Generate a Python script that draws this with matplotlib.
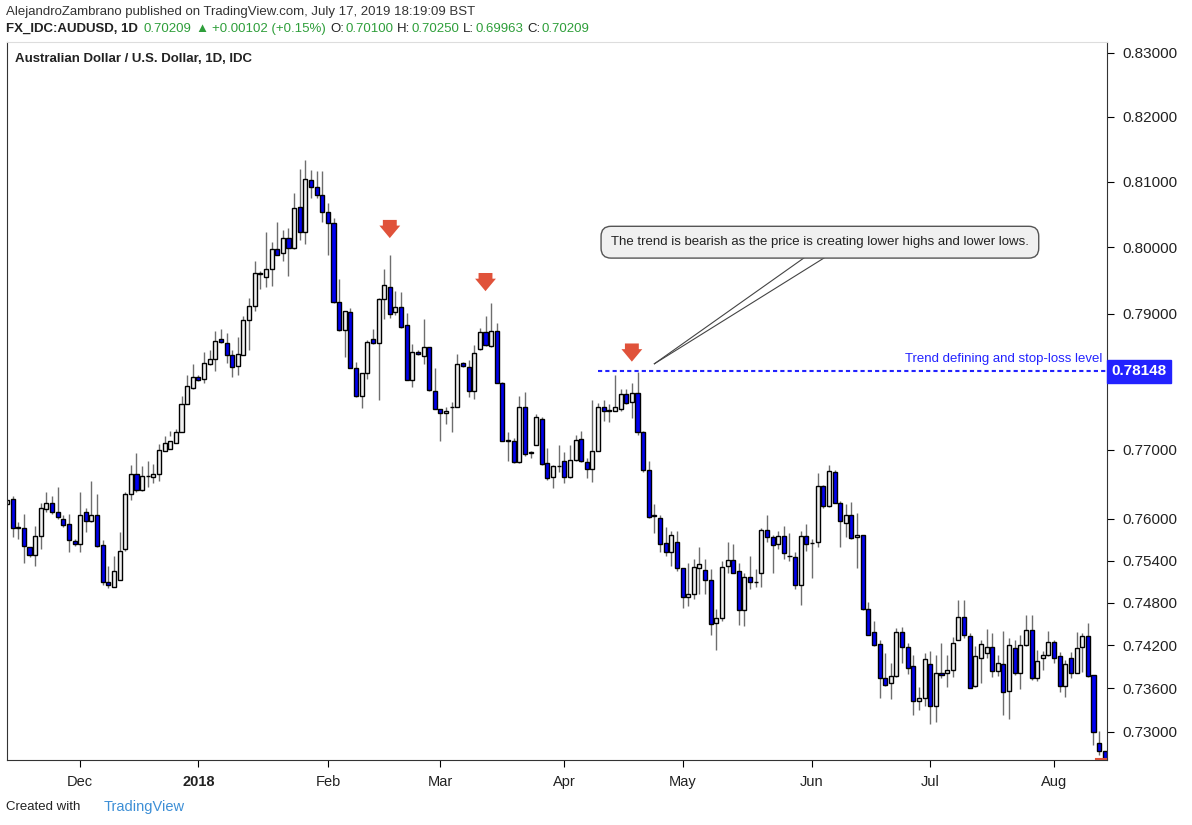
import numpy as np
import pandas as pd
import matplotlib
matplotlib.use('Agg')
import matplotlib.pyplot as plt

# daily AUD/USD candles (price * 1e4)
opens = [7621, 7628, 7587, 7587, 7560, 7548, 7575, 7614, 7622, 7610, 7600, 7593, 7568, 7564, 7609, 7596, 7606, 7562, 7509, 7503, 7513, 7557, 7635, 7664, 7641, 7661, 7660, 7664,
         7698, 7701, 7710, 7726, 7766, 7790, 7806, 7804, 7826, 7833, 7862, 7857, 7839, 7823, 7839, 7891, 7912, 7960, 7956, 7968, 7997, 7992, 8014, 7999, 8062, 8023, 8103, 8092,
         8080, 8054, 8037, 7918, 7876, 7903, 7820, 7779, 7812, 7862, 7857, 7922, 7941, 7903, 7910, 7883, 7802, 7844, 7838, 7851, 7786, 7760, 7753, 7762, 7763, 7827, 7821, 7786,
         7848, 7873, 7853, 7874, 7798, 7713, 7713, 7682, 7762, 7695, 7707, 7745, 7681, 7660, 7676, 7683, 7660, 7685, 7716, 7682, 7672, 7698, 7762, 7757, 7757, 7759, 7781, 7769,
         7783, 7726, 7670, 7604, 7601, 7565, 7552, 7567, 7529, 7488, 7492, 7529, 7526, 7512, 7452, 7459, 7532, 7541, 7525, 7470, 7516, 7509, 7523, 7584, 7574, 7564, 7575, 7546,
         7545, 7505, 7575, 7565, 7567, 7647, 7618, 7667, 7623, 7594, 7606, 7574, 7577, 7471, 7439, 7422, 7375, 7367, 7377, 7439, 7418, 7391, 7343, 7347, 7394, 7336, 7382, 7381,
         7386, 7428, 7460, 7433, 7363, 7403, 7409, 7418, 7384, 7394, 7357, 7416, 7381, 7420, 7442, 7375, 7403, 7406, 7425, 7405, 7364, 7402, 7382, 7418, 7433, 7378, 7285, 7273]
highs = [7627, 7632, 7595, 7607, 7560, 7590, 7622, 7639, 7632, 7645, 7605, 7607, 7571, 7639, 7615, 7654, 7635, 7569, 7533, 7547, 7581, 7639, 7678, 7695, 7676, 7684, 7679, 7708,
         7720, 7727, 7730, 7778, 7809, 7825, 7810, 7844, 7846, 7874, 7877, 7872, 7846, 7866, 7897, 7924, 7980, 7965, 8023, 8008, 8039, 8026, 8029, 8083, 8119, 8134, 8118, 8116,
         8116, 8067, 8044, 7953, 7904, 7909, 7829, 7812, 7861, 7877, 7924, 7967, 7989, 7935, 7933, 7902, 7856, 7847, 7893, 7851, 7819, 7760, 7762, 7769, 7841, 7829, 7831, 7854,
         7879, 7897, 7917, 7886, 7799, 7725, 7717, 7779, 7784, 7698, 7752, 7747, 7702, 7678, 7707, 7697, 7707, 7722, 7727, 7688, 7772, 7768, 7772, 7767, 7810, 7789, 7789, 7798,
         7814, 7727, 7683, 7621, 7606, 7588, 7583, 7582, 7529, 7537, 7543, 7559, 7542, 7528, 7472, 7540, 7567, 7564, 7536, 7522, 7547, 7528, 7586, 7605, 7576, 7583, 7590, 7580,
         7552, 7583, 7593, 7571, 7666, 7648, 7677, 7671, 7625, 7621, 7624, 7608, 7577, 7481, 7454, 7427, 7409, 7395, 7444, 7446, 7423, 7406, 7362, 7410, 7412, 7406, 7424, 7406,
         7432, 7484, 7484, 7437, 7419, 7428, 7443, 7438, 7406, 7441, 7431, 7427, 7435, 7463, 7463, 7413, 7412, 7440, 7427, 7411, 7400, 7411, 7439, 7437, 7452, 7379, 7301, 7273]
lows = [7621, 7574, 7571, 7536, 7545, 7532, 7557, 7610, 7607, 7600, 7588, 7552, 7561, 7552, 7581, 7595, 7559, 7506, 7501, 7503, 7521, 7554, 7627, 7639, 7640, 7646, 7651, 7654,
        7698, 7720, 7709, 7725, 7766, 7789, 7800, 7797, 7824, 7815, 7857, 7827, 7807, 7809, 7839, 7846, 7904, 7937, 7940, 7942, 7988, 7980, 7957, 7998, 8011, 8006, 8075, 8075,
        8039, 7988, 7917, 7874, 7836, 7819, 7777, 7761, 7804, 7856, 7773, 7892, 7894, 7899, 7879, 7802, 7792, 7839, 7826, 7786, 7759, 7712, 7738, 7726, 7762, 7821, 7777, 7774,
        7846, 7852, 7851, 7797, 7712, 7683, 7681, 7681, 7690, 7688, 7707, 7678, 7656, 7644, 7668, 7651, 7659, 7683, 7682, 7659, 7653, 7698, 7742, 7740, 7756, 7756, 7767, 7746,
        7722, 7668, 7601, 7580, 7552, 7547, 7532, 7525, 7473, 7475, 7486, 7492, 7492, 7434, 7413, 7454, 7523, 7523, 7449, 7448, 7499, 7503, 7503, 7566, 7523, 7557, 7543, 7540,
        7499, 7477, 7554, 7515, 7559, 7616, 7617, 7622, 7560, 7574, 7571, 7530, 7470, 7434, 7419, 7347, 7364, 7345, 7376, 7395, 7380, 7323, 7330, 7335, 7310, 7314, 7375, 7362,
        7376, 7427, 7430, 7360, 7362, 7367, 7403, 7376, 7377, 7323, 7318, 7379, 7359, 7419, 7372, 7370, 7386, 7405, 7395, 7355, 7348, 7375, 7381, 7383, 7376, 7281, 7268, 7245]
closes = [7627, 7587, 7587, 7561, 7548, 7575, 7616, 7622, 7609, 7602, 7591, 7570, 7564, 7606, 7596, 7606, 7561, 7509, 7505, 7525, 7554, 7635, 7664, 7641, 7661, 7661, 7664, 7700,
          7710, 7713, 7726, 7766, 7793, 7806, 7802, 7827, 7833, 7860, 7859, 7839, 7821, 7841, 7891, 7912, 7962, 7960, 7968, 7997, 7989, 8014, 7999, 8060, 8023, 8105, 8092, 8080,
          8054, 8037, 7918, 7876, 7904, 7820, 7779, 7812, 7859, 7857, 7923, 7944, 7900, 7910, 7880, 7802, 7844, 7841, 7851, 7787, 7760, 7753, 7756, 7762, 7826, 7823, 7786, 7842,
          7873, 7854, 7874, 7798, 7713, 7713, 7682, 7762, 7693, 7695, 7747, 7679, 7659, 7676, 7676, 7660, 7685, 7714, 7683, 7672, 7698, 7762, 7756, 7757, 7762, 7781, 7768, 7783,
          7726, 7670, 7603, 7604, 7564, 7552, 7577, 7529, 7488, 7492, 7531, 7535, 7512, 7450, 7459, 7531, 7541, 7523, 7470, 7516, 7509, 7509, 7584, 7574, 7562, 7575, 7551, 7546,
          7505, 7575, 7564, 7565, 7647, 7618, 7669, 7623, 7597, 7606, 7573, 7577, 7471, 7435, 7420, 7375, 7365, 7377, 7439, 7418, 7389, 7343, 7347, 7401, 7336, 7382, 7379, 7386,
          7423, 7460, 7435, 7361, 7405, 7422, 7418, 7384, 7395, 7355, 7420, 7381, 7420, 7442, 7375, 7398, 7406, 7425, 7403, 7363, 7394, 7382, 7416, 7433, 7377, 7299, 7273, 7250]
start_date = '2017-11-14'
y_ticks = [0.83, 0.82, 0.81, 0.80, 0.79, 0.77, 0.76, 0.754, 0.748, 0.742, 0.736, 0.730]
arrow_idx = [68, 85, 111]
arrow_price = [0.8010, 0.7930, 0.7825]
level = 0.78148
header_vals = ['0.70209', '\u25b2', '+0.00102 (+0.15%)', 'O:', '0.70100', 'H:', '0.70250', 'L:', '0.69963', 'C:', '0.70209']

o = np.array(opens) / 1e4
h = np.array(highs) / 1e4
l = np.array(lows) / 1e4
c = np.array(closes) / 1e4
n = len(o)
x = np.arange(n)
dates = pd.bdate_range(start_date, periods=n)

plt.rcParams['font.family'] = 'Liberation Sans'
W, H = 1192, 825
fig = plt.figure(figsize=(W / 100, H / 100), dpi=100)
ax = fig.add_axes([7 / W, 1 - 760 / H, 1100 / W, 718 / H])
ax.set_yscale('log')

up = c >= o
ax.vlines(x, l, h, color='#6e6e6e', lw=1, zorder=1)
bot = np.minimum(o, c)
ht = np.maximum(np.abs(c - o), 0.00008)
ax.bar(x[up], ht[up], bottom=bot[up], width=0.72, color='#f0f0f0', edgecolor='black', lw=1, zorder=2)
ax.bar(x[~up], ht[~up], bottom=bot[~up], width=0.72, color='#0000f0', edgecolor='black', lw=1, zorder=2)

ax.set_xlim(0, n - 0.6)
ax.set_ylim(0.7261, 0.8317)

# month ticks
mt, ml = [], []
for i in range(1, n):
    if dates[i].month != dates[i - 1].month:
        mt.append(i)
        ml.append('2018' if dates[i].month == 1 else dates[i].strftime('%b'))
ax.set_xticks(mt)
ax.set_xticklabels(ml, fontsize=10.5, color='#222222')
for t in ax.get_xticklabels():
    if t.get_text() == '2018':
        t.set_fontweight('bold')
ax.yaxis.tick_right()
ax.set_yticks(y_ticks)
ax.set_yticklabels(['%.5f' % v for v in y_ticks], fontsize=11, color='#222222')
ax.yaxis.set_minor_locator(matplotlib.ticker.NullLocator())
ax.tick_params(axis='y', length=5, pad=6)
ax.tick_params(axis='x', length=5, pad=6)
for s in ax.spines.values():
    s.set_color('#333333')
ax.spines['top'].set_color('#dddddd')

# annotations
for i, pr in zip(arrow_idx, arrow_price):
    ax.annotate('', xy=(i, pr), xytext=(i, pr * 1.0045),
                arrowprops=dict(arrowstyle='simple,head_width=1.5,head_length=0.9,tail_width=1.0',
                                color='#e0523a', lw=0))
ax.hlines(level, 105, n, colors='#2222ff', linestyles=(0, (2, 1.5)), lw=1.5, zorder=3)
ax.text(n - 1.5, level * 1.0012, 'Trend defining and stop-loss level', color='#2222ff',
        fontsize=9.5, ha='right', va='bottom')
ax.text(1.004, level, '0.78148', transform=ax.get_yaxis_transform(), color='white',
        fontsize=11, fontweight='bold', va='center', ha='left',
        bbox=dict(boxstyle='square,pad=0.3', fc='#2222ff', ec='#2222ff'), zorder=5)
ax.axhline(0.7263, xmin=0.99, color='#e0523a', lw=1.5, clip_on=False)
ax.plot([115, 141.7], [0.7826, 0.7985], color='#444444', lw=0.8)
ax.plot([115, 145.3], [0.7826, 0.7985], color='#444444', lw=0.8)
ax.text(144.4, 0.8008, 'The trend is bearish as the price is creating lower highs and lower lows.',
        fontsize=9.5, ha='center', va='center', color='#222222', zorder=4,
        bbox=dict(boxstyle='round,pad=0.75', fc='#f0f0f0', ec='#555555'))

ax.text(0.007, 0.985, 'Australian Dollar / U.S. Dollar, 1D, IDC', transform=ax.transAxes,
        fontsize=9.5, fontweight='bold', va='top', color='#222222')

# header / footer
fig.text(6 / W, 1 - 12 / H, 'AlejandroZambrano published on TradingView.com, July 17, 2019 18:19:09 BST',
         fontsize=9.5, va='center', color='#333333')
fig.canvas.draw()
r = fig.canvas.get_renderer()
t = fig.text(6 / W, 1 - 29 / H, 'FX_IDC:AUDUSD, 1D ', fontsize=9.5, va='center', fontweight='bold', color='#222222')
xp = t.get_window_extent(r).x1 + 2
for s in header_vals:
    col = '#222222' if s.endswith(':') else '#2e9e3a'
    t = fig.text(xp / W, 1 - 29 / H, s, fontsize=9.5, va='center', color=col)
    xp = t.get_window_extent(r).x1 + (1 if s.endswith(':') else 4)
fig.text(6 / W, 1 - 807 / H, 'Created with', fontsize=9.5, va='center', color='#222222')
fig.text(104 / W, 1 - 807 / H, 'TradingView', fontsize=10.5, va='center', color='#3d8fd6')
fig.savefig('out.png')
